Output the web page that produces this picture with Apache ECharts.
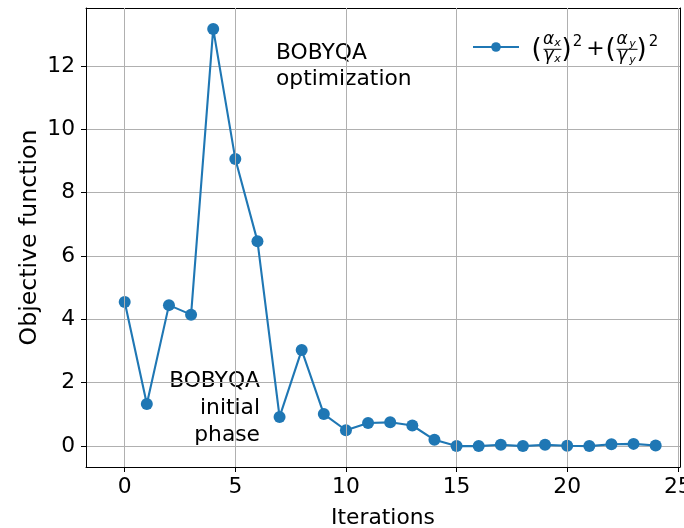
<!DOCTYPE html>
<html>
<head>
<meta charset="utf-8">
<script src="https://cdn.jsdelivr.net/npm/echarts@6/dist/echarts.min.js"></script>
<style>html,body{margin:0;padding:0;background:#fff}#c{width:684px;height:528px}</style>
</head>
<body>
<div id="c"></div>
<script>
const iterations = [0,1,2,3,4,5,6,7,8,9,10,11,12,13,14,15,16,17,18,19,20,21,22,23,24];
const objective = [4.55,1.33,4.45,4.15,13.17,9.06,6.47,0.92,3.03,1.01,0.50,0.73,0.75,0.65,0.20,0.0,0.0,0.04,0.0,0.04,0.01,0.0,0.06,0.07,0.02];
const xTicks = [0,5,10,15,20,25];
const yTicks = [0,2,4,6,8,10,12];
const seriesName = 'objective';
const xLabel = 'Iterations';
const yLabel = 'Objective function';
const noteOptim = 'BOBYQA\noptimization';
const noteInit = 'BOBYQA\ninitial\nphase';

const F = '"DejaVu Sans", sans-serif';
const X_MIN = -1.75, X_MAX = 25.1, Y_MIN = -0.66, Y_MAX = 13.83;
const chart = echarts.init(document.getElementById('c'), null, {renderer: 'canvas'});
const data = iterations.map((x, i) => [x, objective[i]]);

function t(text, x, y, size, italic) {
  return {
    type: 'text', silent: true, z: 10,
    style: {text: text, x: x, y: y, fill: '#000',
      font: (italic ? 'italic ' : '') + size + 'px ' + F,
      textAlign: 'center', textVerticalAlign: 'middle'}
  };
}
function bar(x1, x2, y) {
  return {type: 'line', silent: true, z: 10, shape: {x1: x1, y1: y, x2: x2, y2: y}, style: {stroke: '#000', lineWidth: 1}};
}
const spine = {show: true, lineStyle: {color: '#000', width: 1}};
const lab = {fontFamily: F, fontSize: 21.8, color: '#000'};

chart.setOption({
  animation: false,
  backgroundColor: '#fff',
  grid: {left: 86, right: 4, top: 8, bottom: 61, show: false, containLabel: false, outerBoundsMode: 'none'},
  xAxis: [{
    type: 'value', min: X_MIN, max: X_MAX, minInterval: 5, maxInterval: 5,
    name: xLabel, nameLocation: 'middle', nameGap: 40, nameMoveOverlap: false,
    nameTextStyle: lab,
    axisLine: Object.assign({onZero: false}, spine),
    axisTick: {show: true, inside: false, length: 5, customValues: xTicks, lineStyle: {color: '#000', width: 1}},
    axisLabel: Object.assign({margin: 9, customValues: xTicks, formatter: v => String(v)}, lab),
    splitLine: {show: true, lineStyle: {color: '#b0b0b0', width: 1}},
    z: 5
  }, {
    type: 'value', position: 'top', min: X_MIN, max: X_MAX,
    axisLine: Object.assign({onZero: false}, spine), axisTick: {show: false}, axisLabel: {show: false}, splitLine: {show: false}
  }],
  yAxis: [{
    type: 'value', min: Y_MIN, max: Y_MAX, minInterval: 2, maxInterval: 2,
    name: yLabel, nameLocation: 'middle', nameGap: 44, nameRotate: 90, nameMoveOverlap: false,
    nameTextStyle: {fontFamily: F, fontSize: 23.6, color: '#000'},
    axisLine: Object.assign({onZero: false}, spine),
    axisTick: {show: true, inside: false, length: 5, customValues: yTicks, lineStyle: {color: '#000', width: 1}},
    axisLabel: Object.assign({margin: 11, customValues: yTicks, formatter: v => String(v)}, lab),
    splitLine: {show: true, lineStyle: {color: '#b0b0b0', width: 1}}
  }, {
    type: 'value', position: 'right', min: Y_MIN, max: Y_MAX,
    axisLine: Object.assign({onZero: false}, spine), axisTick: {show: false}, axisLabel: {show: false}, splitLine: {show: false}
  }],
  legend: {
    show: true, left: 472, top: 41, itemWidth: 46, itemHeight: 12, padding: 0,
    data: [seriesName], formatter: () => '', textStyle: {fontSize: 1}
  },
  series: [{
    name: seriesName, type: 'line', data: data, xAxisIndex: 0, yAxisIndex: 0,
    symbol: 'circle', symbolSize: 12, z: 3,
    lineStyle: {color: '#1f77b4', width: 2.1},
    itemStyle: {color: '#1f77b4'}
  }],
  graphic: [
    {type: 'text', silent: true, style: {text: noteOptim, x: 276, y: 40, font: '21.8px ' + F, fill: '#000', textAlign: 'left', textVerticalAlign: 'top', lineHeight: 26}},
    {type: 'text', silent: true, style: {text: noteInit, x: 260, y: 368, font: '21.8px ' + F, fill: '#000', textAlign: 'right', textVerticalAlign: 'top', lineHeight: 27}},
    t('(', 536.5, 50.5, 26, false),
    t('α', 548.5, 40, 17, true),
    t('x', 557.5, 43.5, 11, true),
    bar(543.5, 561.5, 49.3),
    t('γ', 548.5, 56, 17, true),
    t('x', 557.5, 59.5, 11, true),
    t(')', 566.5, 50.5, 26, false),
    t('2', 577.5, 42, 15, false),
    t('+', 595.5, 49.5, 22, false),
    t('(', 610.5, 50.5, 26, false),
    t('α', 622, 40, 17, true),
    t('y', 632.5, 44.5, 11, true),
    bar(616.5, 637.5, 49.3),
    t('γ', 622, 56, 17, true),
    t('y', 632.5, 60.5, 11, true),
    t(')', 641.5, 50.5, 26, false),
    t('2', 653.5, 42, 15, false)
  ]
});
</script>
</body>
</html>
